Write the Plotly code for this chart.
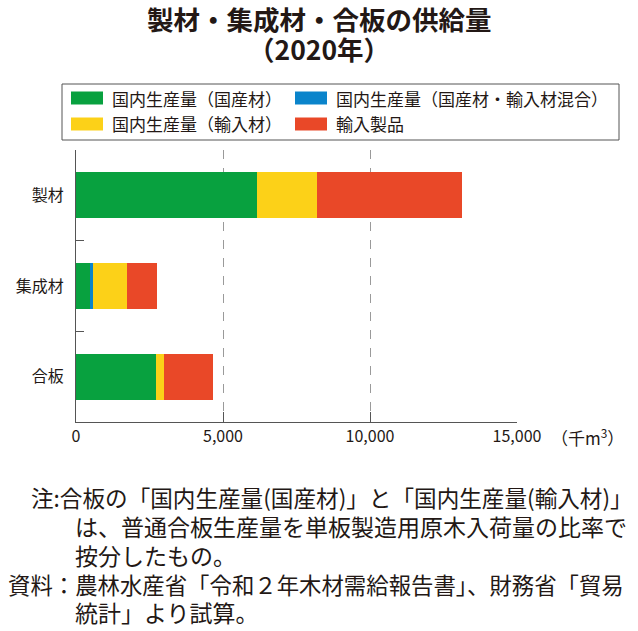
import plotly.graph_objects as go

categories = ["製材", "集成材", "合板"]
series_names = ["国内生産量（国産材）", "国内生産量（国産材・輸入材混合）", "国内生産量（輸入材）", "輸入製品"]
domestic_national = [6160, 465, 2720]
domestic_mixed = [0, 100, 0]
domestic_imported = [2040, 1175, 270]
imported_products = [4930, 1010, 1665]
series_values = [domestic_national, domestic_mixed, domestic_imported, imported_products]
colors = ["#08A13F", "#0A84CB", "#FCD118", "#E94828"]
x_ticks = [0, 5000, 10000, 15000]
x_ticklabels = ["0", "5,000", "10,000", "15,000"]

W, H = 638, 631
L, R, T, B = 76, 517, 150, 422
TXT = "#231815"
FONT = "Noto Sans CJK JP"

def px(x):
    return (x - L) / (R - L)

def py(y):
    return (B - y) / (B - T)

fig = go.Figure()
for name, vals, col in zip(series_names, series_values, colors):
    fig.add_trace(go.Bar(
        y=categories, x=vals, name=name, orientation="h",
        marker=dict(color=col, line=dict(width=0)), showlegend=False,
    ))

shapes = []
annotations = []

# legend box
shapes.append(dict(type="rect", xref="paper", yref="paper",
                   x0=px(62), x1=px(619), y0=py(84), y1=py(140),
                   line=dict(color="#555555", width=1), fillcolor="rgba(0,0,0,0)"))
leg_pos = [(71, 98), (295, 98), (71, 124), (295, 124)]
for (lx, ly), name, col in zip(leg_pos, series_names, colors):
    shapes.append(dict(type="rect", xref="paper", yref="paper",
                       x0=px(lx), x1=px(lx + 32), y0=py(ly - 6.5), y1=py(ly + 6.5),
                       line=dict(width=0), fillcolor=col))
    annotations.append(dict(xref="paper", yref="paper", x=px(lx + 39), y=py(ly),
                            text=name, showarrow=False, xanchor="left", yanchor="middle",
                            font=dict(size=17, color=TXT, family=FONT)))

# title
annotations.append(dict(xref="paper", yref="paper", x=px(319), y=py(19),
                        text="<b>製材・集成材・合板の供給量</b>", showarrow=False,
                        xanchor="center", yanchor="middle",
                        font=dict(size=26.5, color=TXT, family=FONT)))
annotations.append(dict(xref="paper", yref="paper", x=px(319), y=py(48),
                        text="<b>（2020年）</b>", showarrow=False,
                        xanchor="center", yanchor="middle",
                        font=dict(size=26.5, color=TXT, family=FONT)))

# unit
annotations.append(dict(xref="paper", yref="paper", x=px(549), y=py(437),
                        text="（千m<sup>3</sup>）", showarrow=False,
                        xanchor="left", yanchor="middle",
                        font=dict(size=17, color=TXT, family=FONT)))

# notes
notes = [
    (29, 497, "注:合板の「国内生産量(国産材)」と「国内生産量(輸入材)」", 22.6),
    (73, 526, "は、普通合板生産量を単板製造用原木入荷量の比率で", 23),
    (73, 555, "按分したもの。", 23),
    (6, 584, "資料：農林水産省「令和２年木材需給報告書」、財務省「貿易", 22.4),
    (73, 612, "統計」より試算。", 23),
]
for nx, ny, t, fs in notes:
    annotations.append(dict(xref="paper", yref="paper", x=px(nx), y=py(ny),
                            text=t, showarrow=False, xanchor="left", yanchor="middle",
                            font=dict(size=fs, color=TXT, family=FONT)))

fig.update_layout(
    width=W, height=H,
    margin=dict(l=L, r=W - R, t=T, b=H - B, autoexpand=False),
    barmode="stack", bargap=0.49,
    plot_bgcolor="white", paper_bgcolor="white",
    font=dict(family=FONT, color=TXT, size=16),
    shapes=shapes, annotations=annotations,
    xaxis=dict(range=[0, 15000], tickvals=x_ticks, ticktext=x_ticklabels,
               showgrid=True, gridcolor="#9a9a9a", griddash="dash", gridwidth=1,
               zeroline=False, showline=True, linecolor="#555555", linewidth=1,
               ticks="inside", ticklen=10, tickcolor="#555555", automargin=False,
               tickfont=dict(size=16, color=TXT, family=FONT)),
    yaxis=dict(autorange="reversed", showline=True, linecolor="#555555", linewidth=1,
               ticks="inside", tickson="boundaries", ticklen=8, tickcolor="#555555",
               showgrid=False, zeroline=False, ticklabelstandoff=8, automargin=False,
               tickfont=dict(size=16, color=TXT, family=FONT)),
)

fig.write_html("out.html", config={"displayModeBar": False},
               post_script="document.body.style.margin='0px';")
